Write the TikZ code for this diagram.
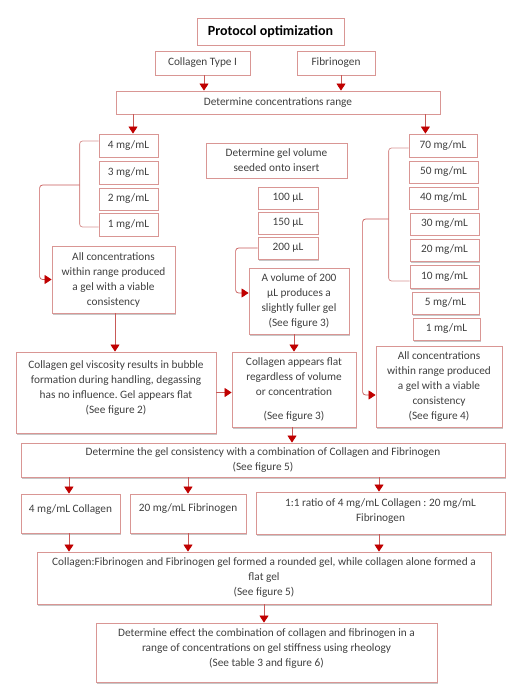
\documentclass[tikz,border=0pt]{standalone}
\usepackage{fontspec}
\setmainfont{Carlito}
\usetikzlibrary{arrows.meta,shadows,calc}
\definecolor{bord}{RGB}{217,150,148}
\definecolor{lred}{RGB}{200,90,88}
\definecolor{dred}{RGB}{192,0,0}
\definecolor{txt}{RGB}{64,64,64}
\newcommand\bt[3]{\parbox[c][#2pt][c]{#1pt}{\centering #3\par}}
\frenchspacing
\begin{document}
\begin{tikzpicture}[x=1pt,y=-1pt,
  box/.style={draw=bord, line width=0.8pt, fill=white, inner sep=0pt, text=txt,
    font=\fontsize{11.3}{15}\selectfont,
    drop shadow={shadow xshift=1.3pt, shadow yshift=-1.5pt, opacity=0.4, fill=black!55}},
  arr/.style={draw=lred, line width=0.7pt, -{Triangle[width=9pt,length=7pt,color=dred]}},
  brk/.style={draw=bord, line width=0.8pt, rounded corners=3pt},
  conn/.style={arr, rounded corners=3pt}]
\fill[white] (0,0) rectangle (522,700);
\useasboundingbox (0,0) rectangle (522,700);

\node[box, font=\fontsize{14}{15}\selectfont\bfseries, text=black] (title) at (270.5,31.5) {\bt{147}{27}{Protocol optimization}};
\node[box] (coll) at (202.5,63) {\bt{95}{24}{Collagen Type I}};
\node[box] (fib) at (336,63) {\bt{78}{24}{Fibrinogen}};
\node[box] (conc) at (278,102.5) {\bt{324}{23}{Determine concentrations range}};

\node[box] (c4) at (128.5,145.5) {\bt{59}{23}{4 mg/mL}};
\node[box] (c3) at (128.5,172.5) {\bt{59}{23}{3 mg/mL}};
\node[box] (c2) at (128.5,199) {\bt{59}{22}{2 mg/mL}};
\node[box] (c1) at (128.5,224.5) {\bt{59}{23}{1 mg/mL}};
\node[box] (allL) at (113.5,279.5) {\bt{123}{67}{All concentrations\\within range produced\\a gel with a viable\\consistency}};

\node[box] (vol) at (276.5,160.5) {\bt{141}{35}{Determine gel volume\\seeded onto insert}};
\node[box] (v100) at (288,198) {\bt{60}{22}{100 µL}};
\node[box] (v150) at (288,223) {\bt{60}{22}{150 µL}};
\node[box] (v200) at (288,248) {\bt{60}{22}{200 µL}};
\node[box] (avol) at (299,301) {\bt{100}{66}{A volume of 200\\µL produces a\\slightly fuller gel\\(See figure 3)}};

\node[box] (f70) at (443,145.5) {\bt{68}{23}{70 mg/mL}};
\node[box] (f50) at (443.5,172) {\bt{69}{22}{50 mg/mL}};
\node[box] (f40) at (443.5,198) {\bt{69}{22}{40 mg/mL}};
\node[box] (f30) at (444.5,224) {\bt{69}{22}{30 mg/mL}};
\node[box] (f20) at (444.5,250) {\bt{69}{22}{20 mg/mL}};
\node[box] (f10) at (444.5,276.5) {\bt{69}{23}{10 mg/mL}};
\node[box] (f5) at (445.5,303) {\bt{67}{22}{5 mg/mL}};
\node[box] (f1) at (446.5,329) {\bt{67}{22}{1 mg/mL}};

\node[box] (visc) at (116,392.5) {\bt{200}{81}{Collagen gel viscosity results in bubble\\formation during handling, degassing\\has no influence. Gel appears flat\\(See figure 2)\vspace{8pt}}};
\node[box] (flat) at (294,389.5) {\bt{124}{75}{Collagen appears flat\\regardless of volume\\or concentration\\[9pt](See figure 3)}};
\node[box] (allR) at (439,386.5) {\bt{126}{81}{All concentrations\\within range produced\\a gel with a viable\\consistency\\(See figure 4)}};

\node[box] (cons) at (263,460) {\bt{484}{34}{Determine the gel consistency with a combination of Collagen and Fibrinogen\\(See figure 5)}};
\node[box] (col4) at (70.5,513.5) {\bt{99}{39}{4 mg/mL Collagen\vspace{7pt}}};
\node[box] (fib20) at (188,513.5) {\bt{116}{39}{20 mg/mL Fibrinogen\vspace{9pt}}};
\node[box] (ratio) at (380.5,513) {\bt{249}{42}{1:1 ratio of 4 mg/mL Collagen : 20 mg/mL\\Fibrinogen\vspace{3pt}}};
\node[box] (cf) at (264,578) {\bt{454}{52}{Collagen:Fibrinogen and Fibrinogen gel formed a rounded gel, while collagen alone formed a\\flat gel\\(See figure 5)}};
\node[box] (last) at (266.5,652.5) {\bt{341}{59}{Determine effect the combination of collagen and fibrinogen in a\\range of concentrations on gel stiffness using rheology\\(See table 3 and figure 6)\vspace{7pt}}};

% connectors
\draw[arr] ([xshift=1.5]coll.south) -- ([xshift=1.5]coll.south |- conc.north);
\draw[arr] ([xshift=5]fib.south) -- ([xshift=5]fib.south |- conc.north);
\draw[arr] ([xshift=4.5]c4.north |- conc.south) -- ([xshift=4.5]c4.north);
\draw[arr] ([xshift=-15]conc.south east) -- ([xshift=-15]conc.south east |- f70.north);

\draw[brk] ([yshift=4.5]c4.west) -| ([xshift=-19,yshift=-2.5]c1.west) -- ([yshift=-2.5]c1.west);
\coordinate (bL) at ($(c4.west)!0.5!(c1.west)+(-19,0)$);
\draw[conn] (bL) -- ++(-40,0) |- (allL.west);
\draw[arr] ([xshift=1.5]allL.south) -- ([xshift=1.5]allL.south |- visc.north);

\draw[conn] (v200.west) -- ++(-22,0) |- ([yshift=8]avol.west);
\draw[arr] ([xshift=-5]avol.south) -- ([xshift=-5]avol.south |- flat.north);

\draw[brk] ([yshift=-2.5]f70.west) -| ([xshift=-21,yshift=-4.5]f10.west) -- ([yshift=-4.5]f10.west);
\coordinate (bR) at ($(f70.west)+(-20,73.5)$);
\draw[conn] (bR) -- ++(-26,0) |- ([yshift=-8.5]allR.west);

\draw[arr] (visc.east) -- (visc.east -| flat.west);
\draw[arr] ([xshift=-2]flat.south) -- ([xshift=-2]flat.south |- cons.north);

\draw[arr] ([xshift=-1.5]col4.north |- cons.south) -- ([xshift=-1.5]col4.north);
\draw[arr] (fib20.north |- cons.south) -- (fib20.north);
\draw[arr] ([xshift=-1.5]ratio.north |- cons.south) -- ([xshift=-1.5]ratio.north);
\draw[arr] ([xshift=-1.5]col4.south) -- ([xshift=-1.5]col4.south |- cf.north);
\draw[arr] (fib20.south) -- (fib20.south |- cf.north);
\draw[arr] ([xshift=-1.5]ratio.south) -- ([xshift=-1.5]ratio.south |- cf.north);
\draw[arr] (cf.south) -- (cf.south |- last.north);
\end{tikzpicture}
\end{document}
